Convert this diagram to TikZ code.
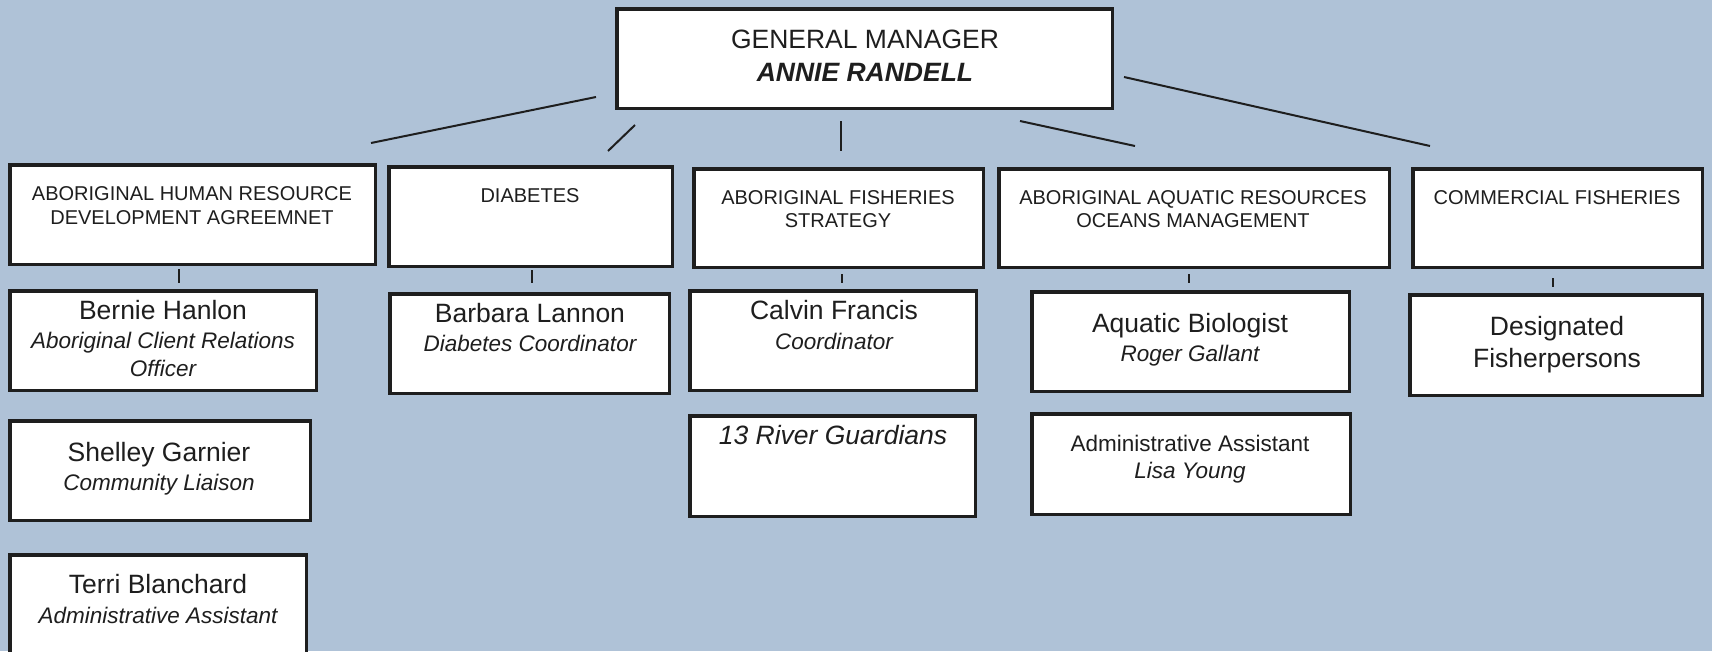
\documentclass[tikz,border=0pt]{standalone}
\usepackage{fontspec}
\setmainfont{Liberation Sans}
\definecolor{bg}{HTML}{AFC2D7}
\definecolor{ink}{HTML}{1E1E1E}
\newcommand\orgbox[5]{%
  \node[orgbox, minimum width={#4-#2-3.5}, minimum height={#5-#3-3.5}]
    (#1) at ({(#2+#4)/2},{(#3+#5)/2}) {};}
\begin{document}
\begin{tikzpicture}[x=1pt,y=-1pt,
  orgbox/.style={draw=ink, fill=white, line width=3.5pt, inner sep=0pt, outer sep=0pt},
  lbl/.style={anchor=base, inner sep=0pt, text=ink},
  capf/.style={lbl, font=\fontsize{20}{24}\selectfont},
  gmf/.style={lbl, font=\fontsize{26.5}{30}\selectfont},
  gmbf/.style={lbl, font=\fontsize{26.5}{30}\selectfont\bfseries\itshape},
  namef/.style={lbl, font=\fontsize{26.5}{30}\selectfont},
  namei/.style={lbl, font=\fontsize{26.5}{30}\selectfont\itshape},
  rolef/.style={lbl, font=\fontsize{22.5}{27}\selectfont\itshape},
  plainf/.style={lbl, font=\fontsize{22.5}{27}\selectfont},
  link/.style={draw=ink, line width=2pt},
  tick/.style={draw=ink, line width=2pt}]
\clip (0,0) rectangle (1712,651);
\fill[bg] (0,0) rectangle (1712,651);

% ---- boxes
\orgbox{gm}{615}{7}{1114}{110}
\orgbox{ahrda}{8}{163}{377}{266}
\orgbox{diab}{387}{165}{674}{268}
\orgbox{afs}{692}{167}{985}{269}
\orgbox{aarom}{997}{167}{1391}{269}
\orgbox{cf}{1411}{167}{1704}{269}
\orgbox{bernie}{8}{289}{318}{392}
\orgbox{barbara}{388}{292}{671}{395}
\orgbox{shelley}{8}{419}{312}{522}
\orgbox{terri}{8}{553}{308}{668}
\orgbox{calvin}{688}{289}{978}{392}
\orgbox{river}{688}{414}{977}{518}
\orgbox{aquatic}{1030}{290}{1351}{393}
\orgbox{admin}{1030}{412}{1352}{516}
\orgbox{desig}{1408}{293}{1704}{397}

% ---- texts
\node[gmf]  (gmA) at (865,48) {GENERAL MANAGER};
\node[gmbf] (gmB) at (865,81) {ANNIE RANDELL};

\node[capf] (ahrdaA) at (192,200) {ABORIGINAL HUMAN RESOURCE};
\node[capf] (ahrdaB) at (192,224) {DEVELOPMENT AGREEMNET};
\node[capf] (diabA) at (530,202) {DIABETES};
\node[capf] (afsA) at (838,204) {ABORIGINAL FISHERIES};
\node[capf] (afsB) at (838,227) {STRATEGY};
\node[capf] (aaromA) at (1193,204) {ABORIGINAL AQUATIC RESOURCES};
\node[capf] (aaromB) at (1193,227) {OCEANS MANAGEMENT};
\node[capf] (cfA) at (1557,204) {COMMERCIAL FISHERIES};

\node[namef] (bernieA) at (163,319) {Bernie Hanlon};
\node[rolef] (bernieB) at (163,348) {Aboriginal Client Relations};
\node[rolef] (bernieC) at (163,376) {Officer};
\node[namef] (barbaraA) at (530,322) {Barbara Lannon};
\node[rolef] (barbaraB) at (530,351) {Diabetes Coordinator};
\node[namef] (shelleyA) at (159,461) {Shelley Garnier};
\node[rolef] (shelleyB) at (159,490) {Community Liaison};
\node[namef] (terriA) at (158,593) {Terri Blanchard};
\node[rolef] (terriB) at (158,623) {Administrative Assistant};
\node[namef] (calvinA) at (834,319) {Calvin Francis};
\node[rolef] (calvinB) at (834,349) {Coordinator};
\node[namei] (riverA) at (833,444) {13 River Guardians};
\node[namef] (aquaticA) at (1190,332) {Aquatic Biologist};
\node[rolef] (aquaticB) at (1190,361) {Roger Gallant};
\node[plainf] (adminA) at (1190,451) {Administrative Assistant};
\node[rolef] (adminB) at (1190,478) {Lisa Young};
\node[namef] (desigA) at (1557,335) {Designated};
\node[namef] (desigB) at (1557,367) {Fisherpersons};

% ---- connector end points (the lines stop short of the boxes)
\coordinate (l1a) at (596,97);   \coordinate (l1b) at (371,143);
\coordinate (l2a) at (635,125);  \coordinate (l2b) at (608,151);
\coordinate (l3a) at (841,121);  \coordinate (l3b) at (841,151);
\coordinate (l4a) at (1020,121); \coordinate (l4b) at (1135,146);
\coordinate (l5a) at (1124,77);  \coordinate (l5b) at (1430,146);
\draw[link] (l1a) -- (l1b);
\draw[link] (l2a) -- (l2b);
\draw[link] (l3a) -- (l3b);
\draw[link] (l4a) -- (l4b);
\draw[link] (l5a) -- (l5b);

\coordinate (t1a) at (179,269);  \coordinate (t1b) at (179,283);
\coordinate (t2a) at (532,270);  \coordinate (t2b) at (532,283);
\coordinate (t3a) at (842,274);  \coordinate (t3b) at (842,283);
\coordinate (t4a) at (1189,274); \coordinate (t4b) at (1189,283);
\coordinate (t5a) at (1553,278); \coordinate (t5b) at (1553,287);
\draw[tick] (t1a) -- (t1b);
\draw[tick] (t2a) -- (t2b);
\draw[tick] (t3a) -- (t3b);
\draw[tick] (t4a) -- (t4b);
\draw[tick] (t5a) -- (t5b);
\end{tikzpicture}
\end{document}
